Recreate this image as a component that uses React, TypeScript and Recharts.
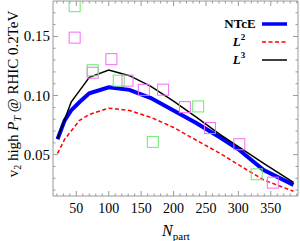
import React from "react";
import { ComposedChart, Line, Scatter, XAxis, YAxis, Legend } from "recharts";

const nPart = [21, 32, 42, 55, 70, 100, 132, 165, 200, 235, 272, 300, 339, 385];
const ntce = [0.063, 0.079, 0.0874, 0.0945, 0.1019, 0.107, 0.1048, 0.0979, 0.0874, 0.0768, 0.0645, 0.0545, 0.037, 0.0244];
const l2 = [0.051, 0.063, 0.07, 0.079, 0.084, 0.0893, 0.0874, 0.0815, 0.073, 0.0622, 0.051, 0.0415, 0.0286, 0.019];
const l3 = [0.0636, 0.0797, 0.0944, 0.1042, 0.1154, 0.1216, 0.1168, 0.1077, 0.0953, 0.0817, 0.067, 0.0567, 0.0426, 0.0265];

const magentaN = [47.4, 75.2, 104.1, 128.9, 154.1, 183.9, 217.5, 256.1, 301.5, 353.1];
const magentaV = [0.149, 0.1193, 0.1308, 0.1126, 0.1048, 0.105, 0.0902, 0.0725, 0.0588, 0.0263];
const greenN = [47.4, 75.2, 115.4, 168, 238, 328.3];
const greenV = [0.1756, 0.1214, 0.1126, 0.0608, 0.0908, 0.0334];

const xMajorTicks = [50, 100, 150, 200, 250, 300, 350];
const yMajorTicks = [0.05, 0.1, 0.15];
const yTickLabels = ["0.05", "0.10", "0.15"];
const xTicks = Array.from({ length: 38 }, (_, i) => 20 + i * 10);
const yTicks = Array.from({ length: 16 }, (_, i) => Math.round((0.02 + i * 0.01) * 100) / 100);

const data = nPart.map((n, i) => ({ n, ntce: ntce[i], l2: l2[i], l3: l3[i] }));
const magenta = magentaN.map((n, i) => ({ n, v: magentaV[i] }));
const green = greenN.map((n, i) => ({ n, v: greenV[i] }));

const FONT = "'Liberation Serif', 'Times New Roman', serif";
const FRAME = "#999";

const isMajorX = (v: number) => xMajorTicks.includes(v);
const isMajorY = (v: number) => yMajorTicks.some((m) => Math.abs(m - v) < 1e-6);

const BottomTick = (p: any) => {
  const { x, y, payload } = p;
  const major = isMajorX(payload.value);
  return (
    <g>
      <line x1={x} x2={x} y1={y} y2={y - (major ? 5 : 2.5)} stroke={FRAME} />
      {major && (
        <text x={x} y={y + 17} textAnchor="middle" fontSize={14} fontFamily={FONT} fill="#000">
          {payload.value}
        </text>
      )}
    </g>
  );
};

const TopTick = (p: any) => {
  const { x, y, payload } = p;
  const major = isMajorX(payload.value);
  return <line x1={x} x2={x} y1={y} y2={y + (major ? 5 : 2.5)} stroke={FRAME} />;
};

const LeftTick = (p: any) => {
  const { x, y, payload } = p;
  const major = isMajorY(payload.value);
  const idx = yMajorTicks.findIndex((m) => Math.abs(m - payload.value) < 1e-6);
  return (
    <g>
      <line x1={x} x2={x + (major ? 5 : 2.5)} y1={y} y2={y} stroke={FRAME} />
      {major && (
        <text x={x - 3} y={y + 5} textAnchor="end" fontSize={15} fontFamily={FONT} fill="#000">
          {yTickLabels[idx]}
        </text>
      )}
    </g>
  );
};

const RightTick = (p: any) => {
  const { x, y, payload } = p;
  const major = isMajorY(payload.value);
  return <line x1={x} x2={x - (major ? 5 : 2.5)} y1={y} y2={y} stroke={FRAME} />;
};

const squareShape = (color: string) => (p: any) => (
  <rect x={p.cx - 5.5} y={p.cy - 5.5} width={11} height={11} fill="none" stroke={color} strokeWidth={1} />
);

const XTitle = () => (
  <text x={176} y={236} textAnchor="middle" fontFamily={FONT} fontSize={16} fill="#000">
    <tspan fontStyle="italic">N</tspan>
    <tspan fontSize={11} dy={4}>part</tspan>
  </text>
);

const YTitle = () => (
  <text
    transform="translate(18,94) rotate(-90)"
    textAnchor="middle"
    fontFamily={FONT}
    fontSize={15}
    fill="#000"
  >
    <tspan>v</tspan>
    <tspan fontSize={10} dy={3}>2</tspan>
    <tspan dy={-3}> high </tspan>
    <tspan fontStyle="italic">P</tspan>
    <tspan fontStyle="italic" fontSize={10} dy={3}>T</tspan>
    <tspan dy={-3}> @ RHIC 0.2TeV</tspan>
  </text>
);

const LegendBox = () => {
  const ox = 215;
  const oy = 10;
  return (
    <svg width={85} height={62} style={{ display: "block" }}>
      <text x={240 - ox} y={28 - oy} textAnchor="middle" fontFamily={FONT} fontWeight="bold" fontSize={13}>
        NTcE
      </text>
      <line x1={262 - ox} x2={287 - ox} y1={24 - oy} y2={24 - oy} stroke="#0000ff" strokeWidth={3.5} />
      <text x={239 - ox} y={46 - oy} textAnchor="middle" fontFamily={FONT} fontWeight="bold" fontSize={13}>
        <tspan fontStyle="italic">L</tspan>
        <tspan fontSize={9} dy={-6}>2</tspan>
      </text>
      <line x1={262 - ox} x2={287 - ox} y1={42 - oy} y2={42 - oy} stroke="#ff0000" strokeWidth={1.5} strokeDasharray="4 2.5" />
      <text x={239 - ox} y={64 - oy} textAnchor="middle" fontFamily={FONT} fontWeight="bold" fontSize={13}>
        <tspan fontStyle="italic">L</tspan>
        <tspan fontSize={9} dy={-6}>3</tspan>
      </text>
      <line x1={262 - ox} x2={287 - ox} y1={60 - oy} y2={60 - oy} stroke="#000" strokeWidth={1.5} />
    </svg>
  );
};

export default function App() {
  return (
    <div style={{ position: "absolute", left: 0, top: 0, width: 300, height: 241, background: "#fff" }}>
      <ComposedChart width={300} height={241} data={data} margin={{ top: 0, right: 0, bottom: 0, left: 0 }}>
        <XAxis
          dataKey="n"
          type="number"
          domain={[14, 392]}
          allowDataOverflow
          ticks={xTicks}
          interval={0}
          tickSize={0}
          tickMargin={0}
          tickLine={false}
          tick={BottomTick}
          height={45}
          axisLine={{ stroke: FRAME }}
          label={<XTitle />}
        />
        <XAxis
          xAxisId="top"
          orientation="top"
          dataKey="n"
          type="number"
          domain={[14, 392]}
          allowDataOverflow
          ticks={xTicks}
          interval={0}
          tickSize={0}
          tickMargin={0}
          tickLine={false}
          tick={TopTick}
          height={1}
          axisLine={{ stroke: FRAME }}
        />
        <YAxis
          type="number"
          domain={[0.015, 0.18]}
          allowDataOverflow
          ticks={yTicks}
          interval={0}
          tickSize={0}
          tickMargin={0}
          tickLine={false}
          tick={LeftTick}
          width={53}
          axisLine={{ stroke: FRAME }}
          label={<YTitle />}
        />
        <YAxis
          yAxisId="right"
          orientation="right"
          type="number"
          domain={[0.015, 0.18]}
          allowDataOverflow
          ticks={yTicks}
          interval={0}
          tickSize={0}
          tickMargin={0}
          tickLine={false}
          tick={RightTick}
          width={2}
          axisLine={{ stroke: FRAME }}
        />
        <Legend
          layout="vertical"
          align="center"
          verticalAlign="middle"
          wrapperStyle={{ left: 215, top: 10, width: 85, height: 62 }}
          content={() => <LegendBox />}
        />
        <Line dataKey="l2" stroke="#ff0000" strokeWidth={1.5} strokeDasharray="4 2.5" dot={false} activeDot={false} isAnimationActive={false} />
        <Line dataKey="ntce" stroke="#0000ff" strokeWidth={4} dot={false} activeDot={false} isAnimationActive={false} />
        <Line dataKey="l3" stroke="#000000" strokeWidth={1.5} dot={false} activeDot={false} isAnimationActive={false} />
        <Scatter data={magenta} dataKey="v" shape={squareShape("#f46cf4")} isAnimationActive={false} />
        <Scatter data={green} dataKey="v" shape={squareShape("#6ce86c")} isAnimationActive={false} />
      </ComposedChart>
    </div>
  );
}
